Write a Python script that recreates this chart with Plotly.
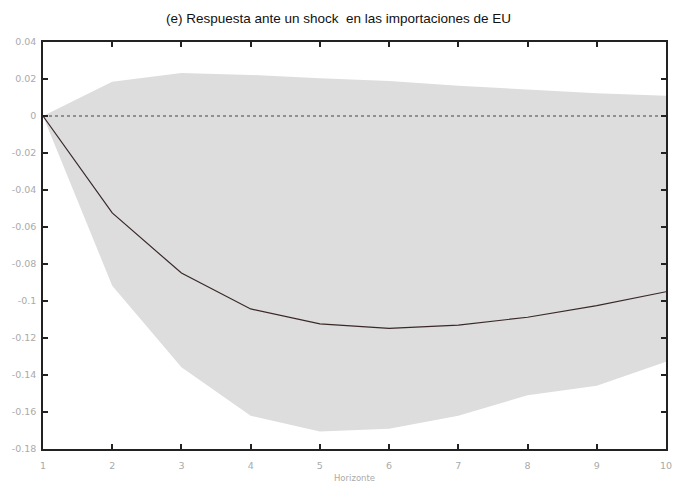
import plotly.graph_objects as go

horizonte = [1, 2, 3, 4, 5, 6, 7, 8, 9, 10]
respuesta = [0.0, -0.0524, -0.0849, -0.1043, -0.1124, -0.1148, -0.113, -0.1088, -0.1025, -0.095]
banda_sup = [0.0, 0.0185, 0.0232, 0.0222, 0.0204, 0.0189, 0.0164, 0.0142, 0.0123, 0.011]
banda_inf = [0.0, -0.0917, -0.1358, -0.162, -0.1706, -0.169, -0.162, -0.151, -0.1458, -0.1328]
y_ticks = [0.04, 0.02, 0, -0.02, -0.04, -0.06, -0.08, -0.1, -0.12, -0.14, -0.16, -0.18]
y_labels = ["0.04", "0.02", "0", "-0.02", "-0.04", "-0.06", "-0.08", "-0.1", "-0.12", "-0.14", "-0.16", "-0.18"]
titulo = "(e) Respuesta ante un shock  en las importaciones de EU"

fig = go.Figure()
fig.add_trace(go.Scatter(x=horizonte, y=banda_sup, mode="lines", line=dict(width=0),
                         hoverinfo="skip", showlegend=False))
fig.add_trace(go.Scatter(x=horizonte, y=banda_inf, mode="lines", line=dict(width=0),
                         fill="tonexty", fillcolor="#dddddd", hoverinfo="skip", showlegend=False))
fig.add_trace(go.Scatter(x=[horizonte[0], horizonte[-1]], y=[0, 0], mode="lines",
                         line=dict(color="#444444", width=1.2, dash="dot"), showlegend=False))
fig.add_trace(go.Scatter(x=horizonte, y=respuesta, mode="lines",
                         line=dict(color="#3a2828", width=1.2), showlegend=False))

axis_common = dict(showline=True, linecolor="#222222", linewidth=1.5, mirror="allticks",
                   ticks="inside", ticklen=5, tickcolor="#222222", tickwidth=1.5,
                   showgrid=False, zeroline=False,
                   tickfont=dict(family="DejaVu Sans", size=9.5, color="#aaaaaa"))

fig.update_layout(
    width=677, height=487,
    margin=dict(l=43, r=5, t=42, b=37),
    plot_bgcolor="white", paper_bgcolor="white",
    title=dict(text=titulo, x=0.5, xanchor="center", y=0.963, yanchor="middle",
               font=dict(family="Liberation Sans", size=13.5, color="#111111")),
    xaxis=dict(range=[1, 10], tickvals=horizonte, ticktext=[str(h) for h in horizonte],
               ticklabelstandoff=7,
               title=dict(text="Horizonte", standoff=5,
                          font=dict(family="DejaVu Sans", size=8.5, color="#aaaaaa")),
               **axis_common),
    yaxis=dict(range=[-0.18, 0.04], tickvals=y_ticks, ticktext=y_labels,
               ticklabelstandoff=3, **axis_common),
)

fig.write_html("out.html")
